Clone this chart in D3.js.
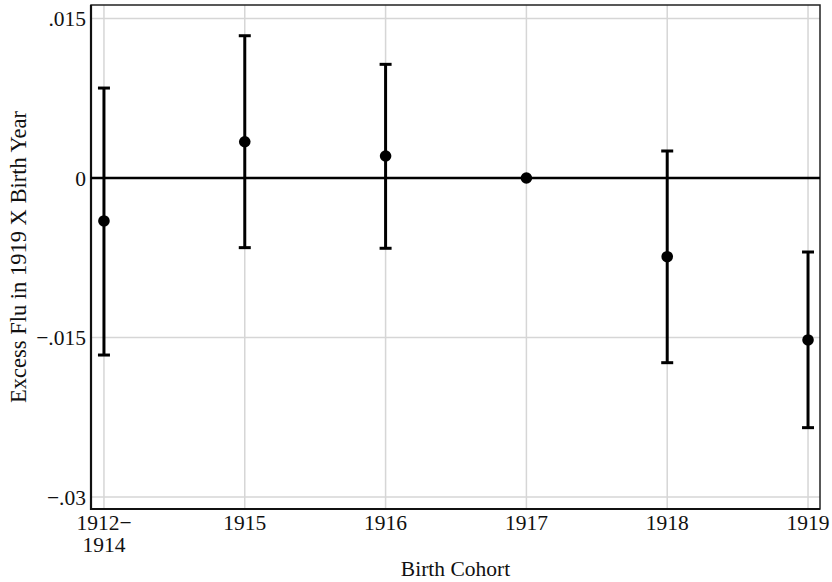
<!DOCTYPE html>
<html>
<head>
<meta charset="utf-8">
<script src="https://cdn.jsdelivr.net/npm/d3@7.9.0/dist/d3.min.js"></script>
<style>
  body { margin: 0; background: #fff; }
  text { font-family: "Liberation Serif", "Times New Roman", serif; fill: #111; }
</style>
</head>
<body>
<svg id="chart" width="832" height="582"></svg>
<script>
const cohorts = ["1912\u2212\n1914", "1915", "1916", "1917", "1918", "1919"];
const estimates = [-0.00404, 0.00341, 0.00207, 0, -0.0074, -0.01523];
const lowerCI = [-0.01665, -0.00655, -0.00661, null, -0.01737, -0.02348];
const upperCI = [0.00846, 0.01338, 0.01069, null, 0.00254, -0.00696];
const yTicks = [0.015, 0, -0.015, -0.03];
const yTickLabels = [".015", "0", "\u2212.015", "\u2212.03"];

const svg = d3.select("#chart");
const margin = { left: 91, right: 12, top: 5, bottom: 73 };
const width = 832, height = 582;

const x = d3.scaleLinear()
  .domain([-0.092, cohorts.length - 1 + 0.085])
  .range([margin.left, width - margin.right]);

const y = d3.scaleLinear()
  .domain([-0.03113, 0.01627])
  .range([height - margin.bottom, margin.top]);

// gridlines
svg.append("g")
  .selectAll("line")
  .data(yTicks)
  .join("line")
  .attr("x1", margin.left).attr("x2", width - margin.right)
  .attr("y1", (d) => y(d)).attr("y2", (d) => y(d))
  .attr("stroke", "#d6d6d6").attr("stroke-width", 1.5);

svg.append("g")
  .selectAll("line")
  .data(cohorts)
  .join("line")
  .attr("x1", (d, i) => x(i)).attr("x2", (d, i) => x(i))
  .attr("y1", margin.top).attr("y2", height - margin.bottom)
  .attr("stroke", "#d6d6d6").attr("stroke-width", 1.5);

// frame
svg.append("rect")
  .attr("x", margin.left).attr("y", margin.top)
  .attr("width", width - margin.right - margin.left)
  .attr("height", height - margin.bottom - margin.top)
  .attr("fill", "none").attr("stroke", "#222").attr("stroke-width", 1.5);

svg.append("line")
  .attr("x1", margin.left).attr("x2", margin.left)
  .attr("y1", margin.top).attr("y2", height - margin.bottom + 1)
  .attr("stroke", "#111").attr("stroke-width", 2.2);
svg.append("line")
  .attr("x1", margin.left - 1).attr("x2", width - margin.right)
  .attr("y1", height - margin.bottom).attr("y2", height - margin.bottom)
  .attr("stroke", "#111").attr("stroke-width", 2.2);

// zero reference line
svg.append("line")
  .attr("x1", margin.left).attr("x2", width - margin.right)
  .attr("y1", y(0)).attr("y2", y(0))
  .attr("stroke", "#000").attr("stroke-width", 2.6);

// y tick labels
svg.append("g")
  .selectAll("text")
  .data(yTicks)
  .join("text")
  .attr("x", margin.left - 5)
  .attr("y", (d) => y(d))
  .attr("dy", "0.35em")
  .attr("text-anchor", "end")
  .attr("font-size", 21.5)
  .text((d, i) => yTickLabels[i]);

// x tick labels
const xLabels = svg.append("g")
  .selectAll("text")
  .data(cohorts)
  .join("text")
  .attr("x", (d, i) => x(i))
  .attr("y", 530)
  .attr("text-anchor", "middle")
  .attr("font-size", 21.5);
xLabels.selectAll("tspan")
  .data((d, i) => d.split("\n").map((s) => ({ s, i })))
  .join("tspan")
  .attr("x", (d) => x(d.i))
  .attr("dy", (d, j) => (j === 0 ? 0 : 22))
  .text((d) => d.s);

// axis titles
svg.append("text")
  .attr("x", (margin.left + width - margin.right) / 2)
  .attr("y", 576)
  .attr("text-anchor", "middle")
  .attr("font-size", 21.5)
  .text("Birth Cohort");

svg.append("text")
  .attr("transform", `translate(26,${(margin.top + height - margin.bottom) / 2}) rotate(-90)`)
  .attr("text-anchor", "middle")
  .attr("font-size", 22.5)
  .text("Excess Flu in 1919 X Birth Year");

// error bars
const bars = cohorts.map((c, i) => ({ i, lo: lowerCI[i], hi: upperCI[i], est: estimates[i] }))
  .filter((d) => d.lo !== null);

const eb = svg.append("g").attr("stroke", "#000").attr("stroke-width", 3);
eb.selectAll("line.v")
  .data(bars)
  .join("line")
  .attr("class", "v")
  .attr("x1", (d) => x(d.i)).attr("x2", (d) => x(d.i))
  .attr("y1", (d) => y(d.hi)).attr("y2", (d) => y(d.lo));
eb.selectAll("line.capt")
  .data(bars)
  .join("line")
  .attr("class", "capt")
  .attr("x1", (d) => x(d.i) - 6).attr("x2", (d) => x(d.i) + 6)
  .attr("y1", (d) => y(d.hi)).attr("y2", (d) => y(d.hi));
eb.selectAll("line.capb")
  .data(bars)
  .join("line")
  .attr("class", "capb")
  .attr("x1", (d) => x(d.i) - 6).attr("x2", (d) => x(d.i) + 6)
  .attr("y1", (d) => y(d.lo)).attr("y2", (d) => y(d.lo));

// points
svg.append("g")
  .selectAll("circle")
  .data(estimates)
  .join("circle")
  .attr("cx", (d, i) => x(i))
  .attr("cy", (d) => y(d))
  .attr("r", 5.8)
  .attr("fill", "#000");
</script>
</body>
</html>
